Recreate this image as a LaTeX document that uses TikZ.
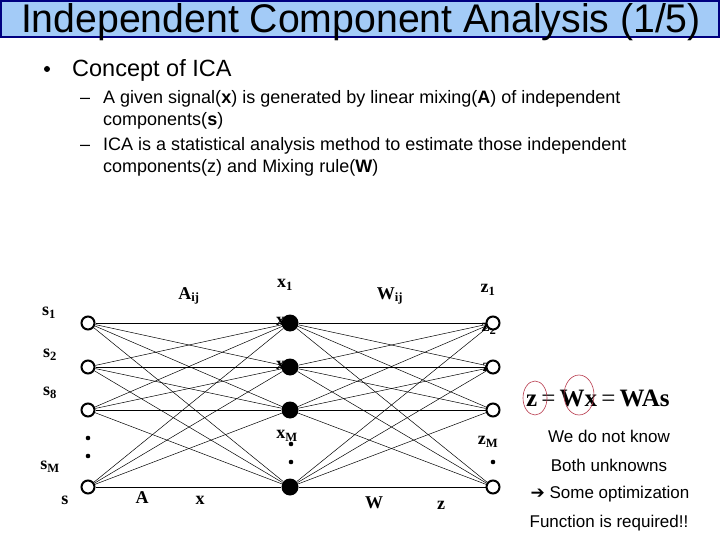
\documentclass[tikz,border=0pt]{standalone}
\usepackage{fontspec}
\setmainfont{Liberation Sans}
\newfontfamily\serifbf{Liberation Serif}
\newfontfamily\symfont{DejaVu Sans}
\definecolor{titlefill}{HTML}{A3CBF7}
\definecolor{titleline}{HTML}{000080}
\definecolor{ringcol}{HTML}{B8384A}
\tikzset{
	srcnode/.style={circle,draw,line width=2pt,fill=white,inner sep=0pt,minimum size=13pt},
	mixnode/.style={circle,fill=black,inner sep=0pt,minimum size=17pt},
	netlab/.style={font=\serifbf\bfseries\fontsize{18}{18}\selectfont,inner sep=0pt},
	bodytext/.style={font=\fontsize{18}{18}\selectfont,anchor=base west,inner sep=0pt},
	notetext/.style={font=\fontsize{17}{17}\selectfont,inner sep=0pt}
}

\begin{document}
\begin{tikzpicture}[x=1pt,y=-1pt]
\useasboundingbox (0,0) rectangle (720,540);
\fill[white] (0,0) rectangle (720,540);
% title bar
\draw[titleline,fill=titlefill,line width=2pt] (1,1) rectangle (719,37);
\node[font=\fontsize{40}{40}\selectfont,anchor=base,inner sep=0pt] (title) at (361,33) {\scalebox{0.98}[1]{Independent Component Analysis (1/5)}};
% bullet text
\fill (47,69) circle (3);
\node[font=\fontsize{23.5}{23.5}\selectfont,anchor=base west,inner sep=0pt] (concept) at (72,77) {Concept of ICA};
\node[bodytext] (dash1) at (80,104) {–};
\node[bodytext] (line1) at (103,104) {A given signal(\textbf{x}) is generated by linear mixing(\textbf{A}) of independent};
\node[bodytext] (line2) at (103,126) {components(\textbf{s})};
\node[bodytext] (dash2) at (80,151) {–};
\node[bodytext] (line3) at (103,151) {ICA is a statistical analysis method to estimate those independent};
\node[bodytext] (line4) at (103,173) {components(z) and Mixing rule(\textbf{W})};
% labels hidden behind nodes
\node[netlab] (lx2) at (284,323) {x\textsubscript{2}};
\node[netlab] (lx3) at (284,367) {x\textsubscript{3}};
\node[netlab] (lz2) at (489,329) {z\textsubscript{2}};
\node[netlab] (lz3) at (490,369) {z\textsubscript{3}};
% the three layers
\foreach \yy [count=\row] in {323,367,410,487}{
	\node[srcnode] (s\row) at (88,\yy) {};
	\node[mixnode] (x\row) at (290,\yy) {};
	\node[srcnode] (z\row) at (493,\yy) {};
}
\foreach \i in {1,...,4}{
	\foreach \j in {1,...,4}{
		\draw[line width=0.5pt] (s\i) -- (x\j);
		\draw[line width=0.5pt] (x\i) -- (z\j);
	}
}
% dots
\foreach \xx/\yy [count=\d] in {88/438,88/456,291/444,291/462,493/462}{
	\fill (\xx,\yy) circle (2.3);
}
% labels
\node[netlab] (ls1) at (49,313) {s\textsubscript{1}};
\node[netlab] (ls2) at (50,355) {s\textsubscript{2}};
\node[netlab] (ls3) at (50,393) {s\textsubscript{8}};
\node[netlab] (lsm) at (50,467) {s\textsubscript{M}};
\node[netlab] (ls) at (65,500) {s};
\node[netlab] (la) at (142,498) {A};
\node[netlab] (lx) at (200,500) {x};
\node[netlab] (lw) at (374,503) {W};
\node[netlab] (lz) at (441,505) {z};
\node[netlab] (laij) at (189,296) {A\textsubscript{ij}};
\node[netlab] (lx1) at (285,285) {x\textsubscript{1}};
\node[netlab] (lwij) at (390,296) {W\textsubscript{ij}};
\node[netlab] (lz1) at (488,290) {z\textsubscript{1}};
\node[netlab] (lxm) at (287,436) {x\textsubscript{M}};
\node[netlab] (lzm) at (488,442) {z\textsubscript{M}};
% equation and notes
\node[font=\serifbf\bfseries\fontsize{25}{25}\selectfont,anchor=base west,inner sep=0pt] (eqn) at (526,406) {z\,{\mdseries=}\,Wx\,{\mdseries=}\,WAs};
\draw[ringcol,line width=0.6pt] (535,398) ellipse [x radius=12, y radius=17];
\draw[ringcol,line width=0.6pt] (579,395) ellipse [x radius=15, y radius=20];
\node[notetext] (know) at (609,436) {We do not know};
\node[notetext] (both) at (609,465) {Both unknowns};
\node[notetext] (opt) at (610,494) {{\symfont ➔} Some optimization};
\node[notetext] (func) at (609,523) {Function is required!!};
\end{tikzpicture}
\end{document}
